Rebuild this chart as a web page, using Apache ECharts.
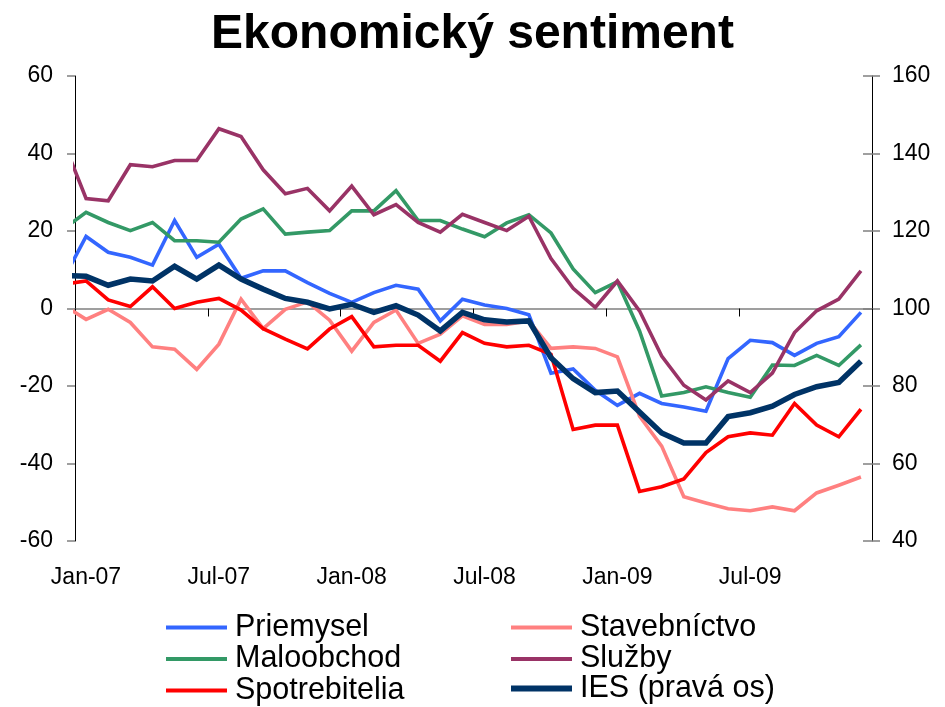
<!DOCTYPE html>
<html>
<head>
<meta charset="utf-8">
<script src="https://cdn.jsdelivr.net/npm/echarts@6/dist/echarts.min.js"></script>
<style>
html,body{margin:0;padding:0;background:#fff;}
#chart{width:945px;height:707px;}
</style>
</head>
<body>
<div id="chart"></div>
<script>
// Monthly observations (first one, Dec-06, lies left of the plot and is clipped)
const months = ['Dec-06',
  'Jan-07','Feb-07','Mar-07','Apr-07','May-07','Jun-07','Jul-07','Aug-07','Sep-07','Oct-07','Nov-07','Dec-07',
  'Jan-08','Feb-08','Mar-08','Apr-08','May-08','Jun-08','Jul-08','Aug-08','Sep-08','Oct-08','Nov-08','Dec-08',
  'Jan-09','Feb-09','Mar-09','Apr-09','May-09','Jun-09','Jul-09','Aug-09','Sep-09','Oct-09','Nov-09','Dec-09'];
const tickLabels = ['Jan-07','Jul-07','Jan-08','Jul-08','Jan-09','Jul-09'];

const priemysel = [7.8,
  18.6,14.5,13.2,11.2,22.7,13.2,16.6,7.8,9.7,9.7,6.7,3.9,
  1.6,4.1,6.0,5.0,-3.2,2.4,0.9,0.0,-1.6,-16.7,-15.6,-21.1,
  -25.0,-21.9,-24.5,-25.4,-26.5,-12.9,-8.2,-8.8,-12.1,-9.0,-7.3,-1.0];
const stavebnictvo = [0.8,
  -2.8,-0.2,-3.6,-9.9,-10.5,-15.7,-9.2,2.4,-5.2,-0.2,1.7,-3.0,
  -11.0,-3.6,-0.4,-9.0,-6.6,-1.9,-4.1,-4.1,-3.2,-10.3,-9.9,-10.3,
  -12.5,-27.8,-35.5,-48.6,-50.2,-51.7,-52.2,-51.2,-52.2,-47.6,-45.6,-43.5];
const maloobchod = [20.6,
  24.8,22.2,20.1,22.2,17.5,17.5,17.1,23.1,25.7,19.2,19.7,20.1,
  25.2,25.2,30.4,22.7,22.7,20.5,18.5,22.1,24.2,19.5,10.2,4.1,
  6.9,-5.8,-22.6,-21.7,-20.2,-21.7,-22.9,-14.6,-14.7,-12.1,-14.7,-9.4];
const sluzby = [42.8,
  28.4,27.8,37.1,36.6,38.2,38.2,46.4,44.4,35.8,29.6,31.0,25.2,
  31.6,24.2,26.8,22.2,19.7,24.3,22.2,20.1,23.8,12.9,5.2,0.3,
  7.1,-0.6,-12.3,-19.8,-23.6,-18.7,-21.7,-16.7,-6.2,-0.6,2.4,9.7];
const spotrebitelia = [6.3,
  7.1,2.2,0.5,5.6,0.0,1.6,2.6,-0.4,-5.2,-7.9,-10.4,-5.3,
  -2.1,-9.9,-9.5,-9.5,-13.6,-6.2,-9.0,-9.9,-9.5,-11.8,-31.2,-30.1,
  -30.1,-47.2,-46.0,-44.0,-37.2,-33.1,-32.1,-32.7,-24.5,-30.1,-33.1,-26.0];
const ies = [108.5,
  108.3,106.0,107.6,107.1,110.9,107.6,111.2,107.6,105.0,102.6,101.6,99.9,
  101.1,99.0,100.7,98.3,94.2,99.0,97.1,96.5,96.8,87.3,81.9,78.3,
  78.7,73.3,67.9,65.3,65.3,72.1,73.1,74.8,77.8,79.8,80.9,86.4];

// x position: mid-month, in months from 1 Jan 2007
function toXY(arr){ return arr.map((v,i)=>[i - 0.5, v]); }

const FONT = '"Liberation Sans", Arial, sans-serif';

const chart = echarts.init(document.getElementById('chart'));

function lineSeries(name, data, color, width, yIdx){
  return {
    name: name, type: 'line', data: toXY(data),
    xAxisIndex: 0, yAxisIndex: yIdx,
    symbol: 'none', clip: true, animation: false,
    lineStyle: {color: color, width: width, join: 'miter'},
    itemStyle: {color: color}
  };
}

const legendText = {fontFamily: FONT, fontSize: 30.5, color: '#000', lineHeight: 30, padding: [0,0,0,3]};
function legendBlock(names, left, top, thick){
  return {
    data: names, orient: 'vertical', left: left, top: top,
    padding: 0, itemGap: 0.5,
    icon: 'rect', itemWidth: 61, itemHeight: thick,
    textStyle: legendText
  };
}

chart.setOption({
  backgroundColor: '#ffffff',
  animation: false,
  title: {
    text: 'Ekonomický sentiment',
    left: 'center', top: 6,
    textStyle: {fontFamily: FONT, fontSize: 48, fontWeight: 'bold', color: '#000'}
  },
  grid: {left: 75, right: 73, top: 76, bottom: 166, containLabel: false},
  legend: [
    legendBlock(['Priemysel','Maloobchod','Spotrebitelia'], 166, 612, 4),
    legendBlock(['Stavebníctvo','Služby'], 511, 612, 4),
    legendBlock(['IES (pravá os)'], 511, 673, 6)
  ],
  xAxis: [
    {
      type: 'value', min: 0, max: 36, interval: 6, position: 'bottom',
      axisLine: {show: false, onZero: false},
      axisTick: {show: false},
      splitLine: {show: false},
      axisLabel: {
        show: true, margin: 25, fontFamily: FONT, fontSize: 23, color: '#000',
        padding: [0,0,0,22],
        formatter: function(v){ const i = Math.round(v/6); return tickLabels[i] || ''; }
      }
    },
    {
      type: 'value', min: 0, max: 36, interval: 6, position: 'bottom',
      axisLine: {show: true, onZero: true, onZeroAxisIndex: 0, lineStyle: {color: '#808080', width: 1.5}},
      axisTick: {show: true, inside: false, length: 8, lineStyle: {color: '#000', width: 1}},
      axisLabel: {show: false},
      splitLine: {show: false}
    }
  ],
  yAxis: [
    {
      type: 'value', min: -60, max: 60, interval: 20, position: 'left',
      axisLine: {show: true, onZero: false, lineStyle: {color: '#000', width: 1}},
      axisTick: {show: true, inside: false, length: 8, lineStyle: {color: '#808080', width: 1.5}},
      splitLine: {show: false},
      axisLabel: {margin: 22, fontFamily: FONT, fontSize: 23, color: '#000'}
    },
    {
      type: 'value', min: 40, max: 160, interval: 20, position: 'right',
      axisLine: {show: true, onZero: false, lineStyle: {color: '#000', width: 1}},
      axisTick: {show: true, inside: false, length: 8, lineStyle: {color: '#808080', width: 1.5}},
      splitLine: {show: false},
      axisLabel: {margin: 20, fontFamily: FONT, fontSize: 23, color: '#000'}
    },
    {
      type: 'value', min: 40, max: 160, interval: 20, position: 'right',
      axisLine: {show: false, onZero: false},
      axisTick: {show: true, inside: true, length: 9, lineStyle: {color: '#808080', width: 1.5}},
      splitLine: {show: false},
      axisLabel: {show: false}
    }
  ],
  series: [
    lineSeries('Priemysel', priemysel, '#3366ff', 3.6, 0),
    lineSeries('Stavebníctvo', stavebnictvo, '#ff8080', 3.6, 0),
    lineSeries('Maloobchod', maloobchod, '#339966', 3.6, 0),
    lineSeries('Služby', sluzby, '#993366', 3.6, 0),
    lineSeries('Spotrebitelia', spotrebitelia, '#ff0000', 3.6, 0),
    lineSeries('IES (pravá os)', ies, '#003366', 5.5, 1)
  ]
});
</script>
</body>
</html>
